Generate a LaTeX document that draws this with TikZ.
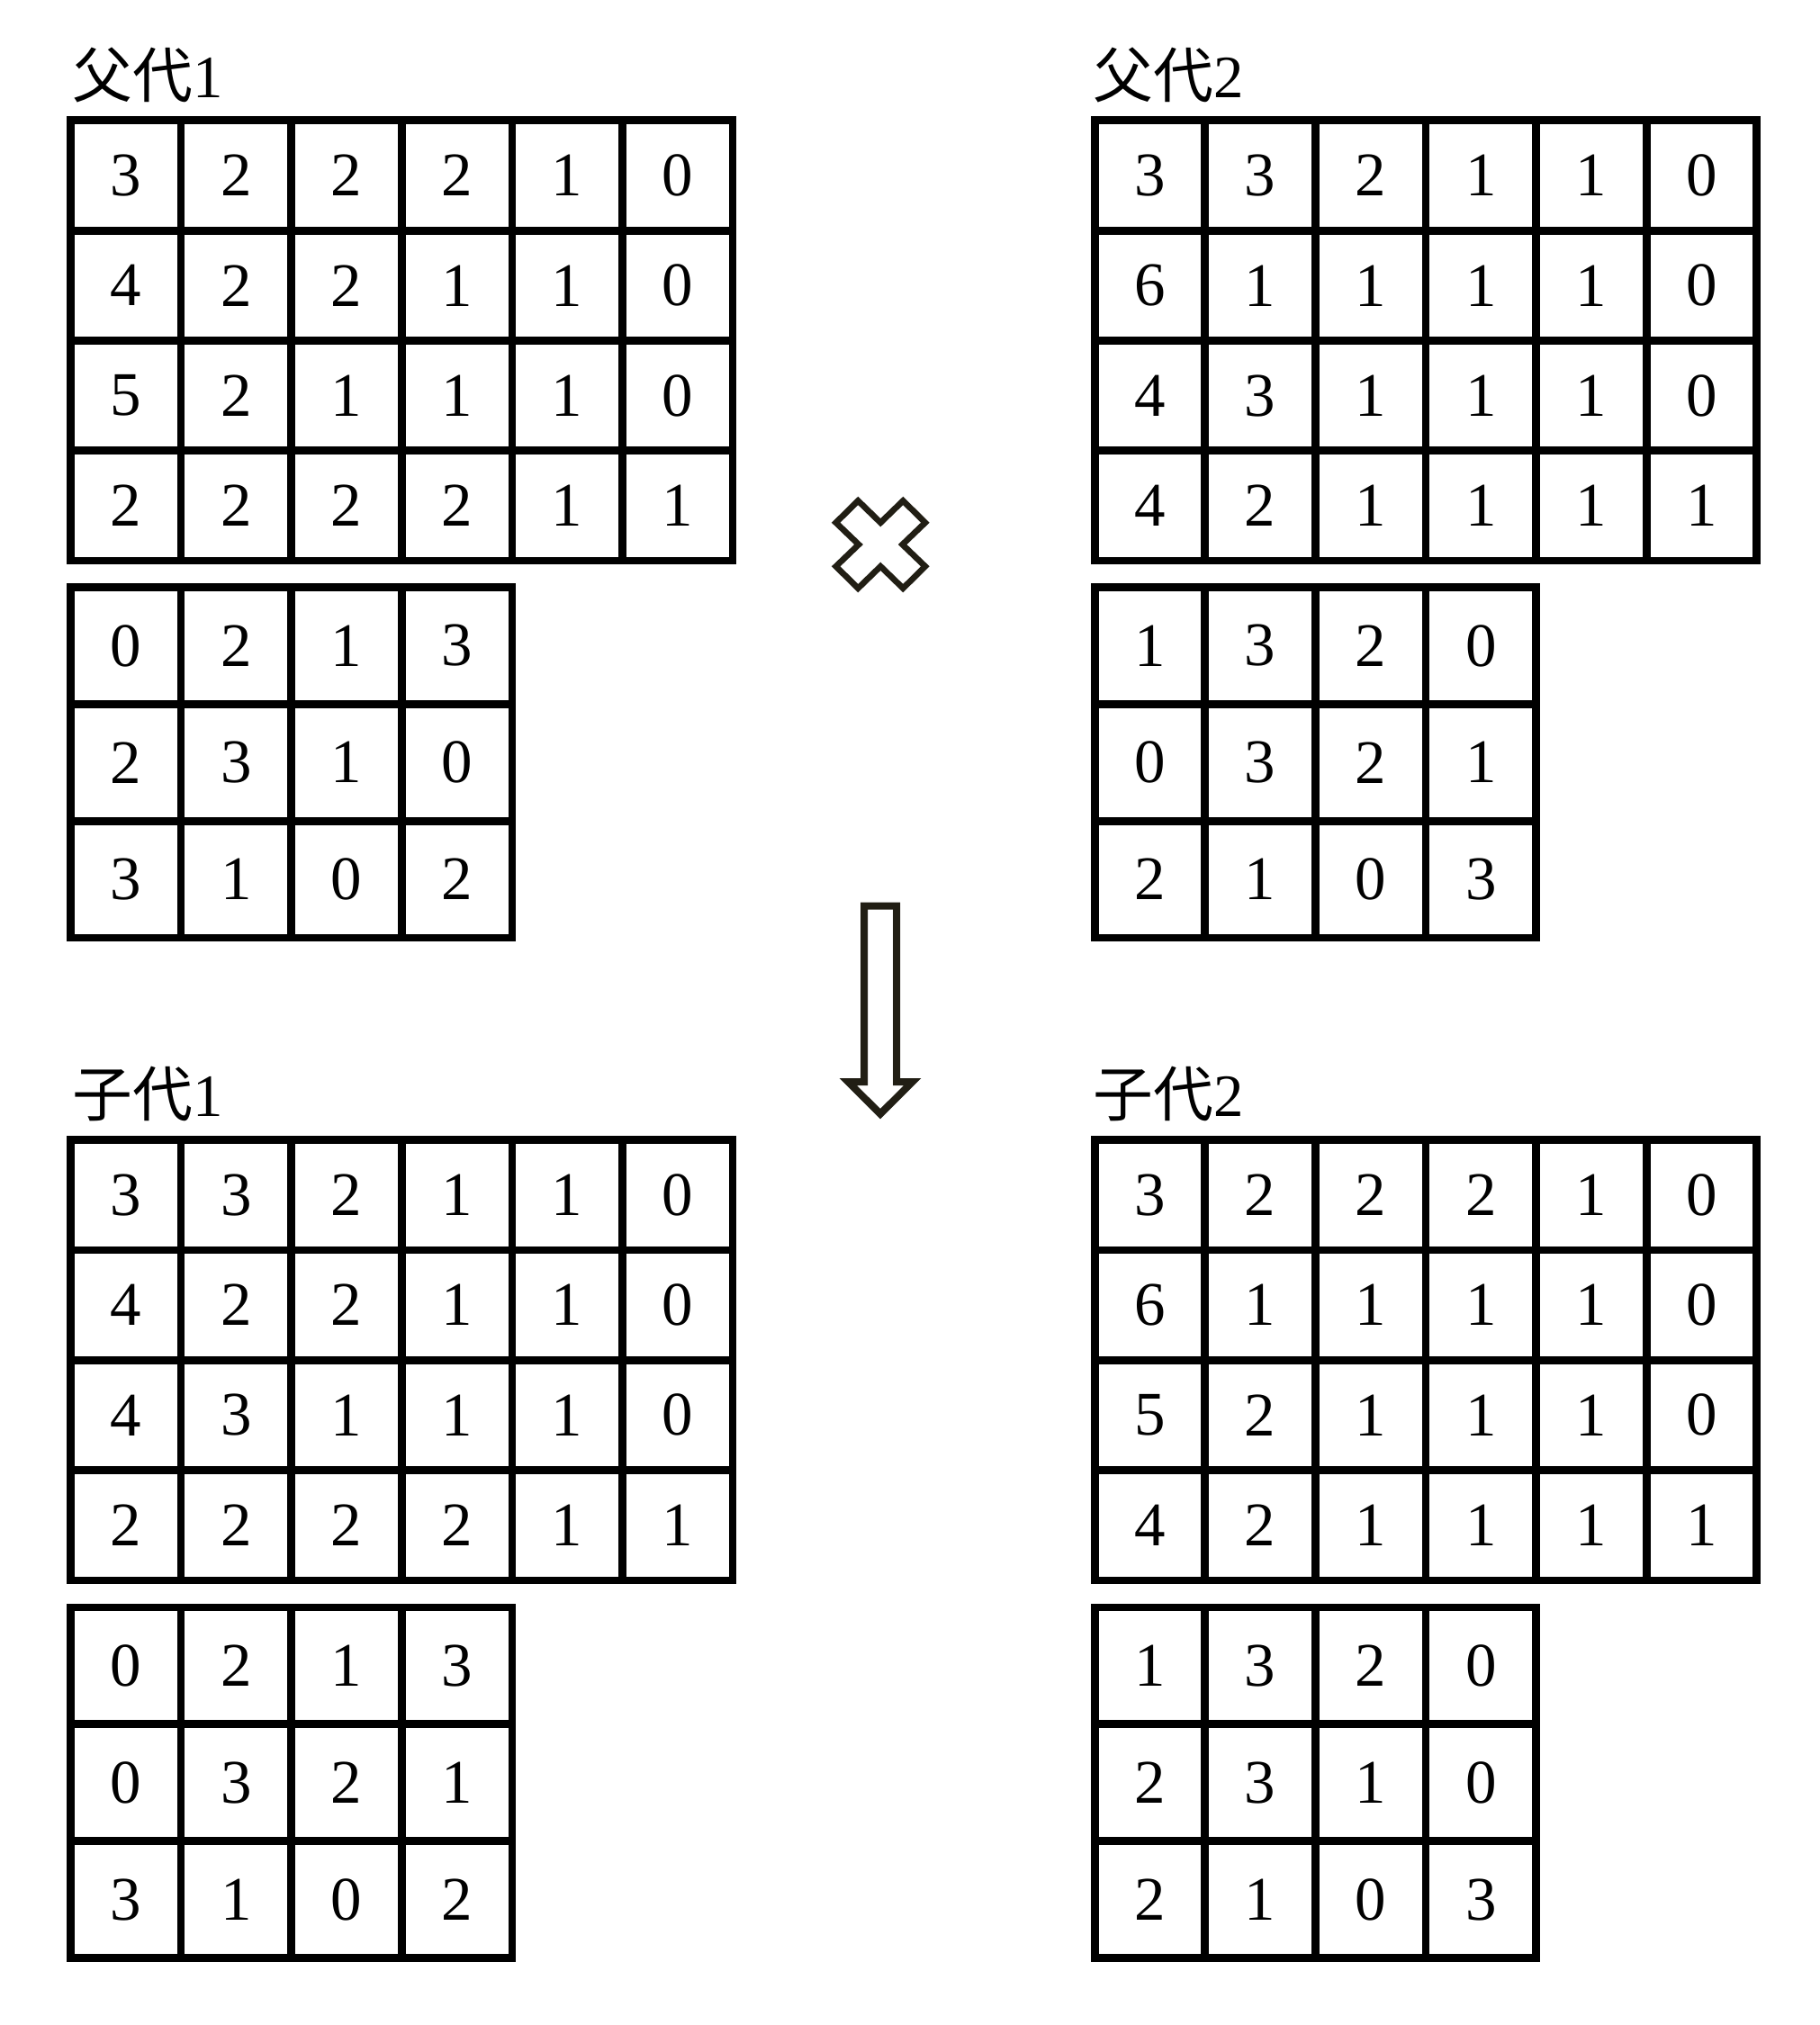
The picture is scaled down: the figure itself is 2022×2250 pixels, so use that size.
\documentclass[tikz,border=0pt]{standalone}
\usepackage{fontspec}
\setmainfont{Liberation Serif}
\newfontfamily\cjkfont{Noto Sans CJK SC}
\definecolor{symcol}{HTML}{211E14}
\tikzset{
  cell/.style={draw=black, line width=0.087cm, inner sep=0pt, minimum width=1.226cm,
    font=\fontsize{19.6pt}{20pt}\selectfont},
  gridlabel/.style={anchor=base west, inner sep=0pt, font=\fontsize{19pt}{20pt}\selectfont},
  crossmark/.style={draw=symcol, line width=0.067cm, line join=miter, fill=white},
  blockarrow/.style={draw=symcol, line width=0.08cm, line join=miter, fill=white}
}
% name, x0, y0, cell height (cm), rows
\newcommand\gridtab[5]{%
  \foreach \rowlist [count=\r] in {#5}{%
    \foreach \val [count=\c] in \rowlist{%
      \node[cell, minimum height=#4 cm] (#1-\r-\c)
        at ({#2+(\c-0.5)*122.6},{#3+(\r-0.5)*#4*100}) {\val};
    }}}
\begin{document}
\begin{tikzpicture}[x=0.01cm, y=-0.01cm]
\useasboundingbox[fill=white] (0,0) rectangle (2022,2250);

% labels
\node[gridlabel] (lp1) at (80,108) {{\cjkfont 父代}1};
\node[gridlabel] (lp2) at (1214,108) {{\cjkfont 父代}2};
\node[gridlabel] (lc1) at (80,1240.8) {{\cjkfont 子代}1};
\node[gridlabel] (lc2) at (1214,1240.8) {{\cjkfont 子代}2};

% parent 1
\gridtab{pa}{78.5}{133.8}{1.223}{{3,2,2,2,1,0},{4,2,2,1,1,0},{5,2,1,1,1,0},{2,2,2,2,1,1}}
\gridtab{pb}{78.5}{652.5}{1.298}{{0,2,1,3},{2,3,1,0},{3,1,0,2}}
% parent 2
\gridtab{qa}{1216.2}{133.8}{1.223}{{3,3,2,1,1,0},{6,1,1,1,1,0},{4,3,1,1,1,0},{4,2,1,1,1,1}}
\gridtab{qb}{1216.2}{652.5}{1.298}{{1,3,2,0},{0,3,2,1},{2,1,0,3}}
% child 1
\gridtab{ca}{78.5}{1266.6}{1.223}{{3,3,2,1,1,0},{4,2,2,1,1,0},{4,3,1,1,1,0},{2,2,2,2,1,1}}
\gridtab{cb}{78.5}{1786}{1.298}{{0,2,1,3},{0,3,2,1},{3,1,0,2}}
% child 2
\gridtab{da}{1216.2}{1266.6}{1.223}{{3,2,2,2,1,0},{6,1,1,1,1,0},{5,2,1,1,1,0},{4,2,1,1,1,1}}
\gridtab{db}{1216.2}{1786}{1.298}{{1,3,2,0},{2,3,1,0},{2,1,0,3}}

% crossover mark
\draw[crossmark] (953.3,556.4) -- (978.3,580.7) -- (1003.3,556.4) -- (1027.9,580.7)
  -- (1002.6,605) -- (1027.9,629.3) -- (1003.3,653.6) -- (978.3,629.3)
  -- (953.3,653.6) -- (928.7,629.3) -- (954,605) -- (928.7,580.7) -- cycle;

% down arrow
\draw[blockarrow] (960,1006.7) -- (996,1006.7) -- (996,1202) -- (1013.7,1202)
  -- (978,1237.6) -- (942.3,1202) -- (960,1202) -- cycle;
\end{tikzpicture}
\end{document}
